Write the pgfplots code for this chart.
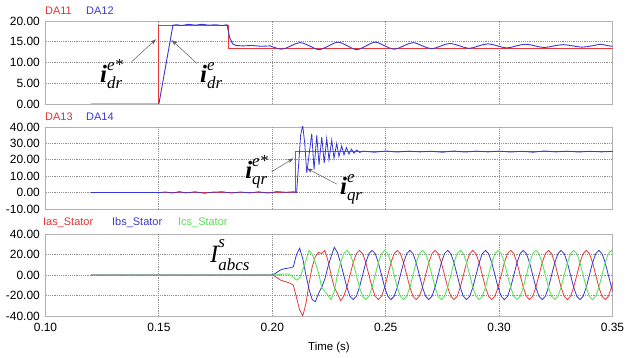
\documentclass[border=0pt]{standalone}
\usepackage{fontspec}
\setmainfont{Liberation Sans}
\newfontfamily\tms{Liberation Serif}
\usepackage{pgfplots}
\usepackage{pgfplotstable}
\pgfplotsset{compat=1.18}
\usetikzlibrary{arrows.meta}

\definecolor{cred}{RGB}{235,55,55}
\definecolor{cblue}{RGB}{55,55,215}
\definecolor{cgreen}{RGB}{90,228,90}
\definecolor{lred}{RGB}{225,50,50}
\definecolor{lblue}{RGB}{60,60,205}
\definecolor{lgreen}{RGB}{90,220,90}
\definecolor{arr}{RGB}{90,90,90}
\definecolor{gridc}{RGB}{145,145,145}
\tikzset{gl/.style={draw=gridc, line width=0.9bp, dash pattern=on 1.2bp off 1bp}}

\newcommand{\curlab}[3]{{\tms\fontsize{25}{25}\selectfont\bfseries\itshape #1}%
\makebox[0pt][l]{\raisebox{12bp}{\tms\fontsize{17}{17}\selectfont\itshape #2}}%
\raisebox{-6bp}{\tms\fontsize{17}{17}\selectfont\itshape #3}}
\newcommand{\Ilab}[3]{{\tms\fontsize{25}{25}\selectfont\itshape #1}%
\makebox[0pt][l]{\raisebox{15bp}{\tms\fontsize{17}{17}\selectfont\itshape #2}}%
\raisebox{-8bp}{\tms\fontsize{17}{17}\selectfont\itshape #3}}

\pgfplotstableread{
t R B G
0.12000 0 0 0
0.19954 0 0 0
0.20093 -1 1 0
0.20232 -3 3 0.5
0.20371 -5 5 0.5
0.20510 -6 6 1
0.20649 -7 6.5 1
0.20788 -8 7 0
0.20927 -10 8 -2
0.21066 -22 20 -5
0.21204 -34 26 -3
0.21343 -40 16 5
0.21482 -28 0 14
0.21621 -8 -14 24
0.21760 8 -24 20
0.21899 18 -26 12
0.22038 22 -18 2
0.22177 21 -12 -12
0.22316 24 -4 -16
0.22454 14 8 -20
0.22593 0 18 -24
0.22732 -12 27 -16
0.22871 -18 22 0
0.23010 -25 12 12
0.23149 -20.8 0 20.8
0.23288 -12 -12 24
0.23427 0 -20.8 20.8
0.23566 12 -24 12
0.23704 20.8 -20.8 0
0.23843 24 -12 -12
0.23982 20.8 0 -20.8
0.24121 12 12 -24
0.24260 0 20.8 -20.8
0.24399 -12 24 -12
0.24538 -20.8 20.8 0
0.24677 -24 12 12
0.24816 -20.8 0 20.8
0.24954 -12 -12 24
0.25093 0 -20.8 20.8
0.25232 12 -24 12
0.25371 20.8 -20.8 0
0.25510 24 -12 -12
0.25649 20.8 0 -20.8
0.25788 12 12 -24
0.25927 0 20.8 -20.8
0.26066 -12 24 -12
0.26204 -20.8 20.8 0
0.26343 -24 12 12
0.26482 -20.8 0 20.8
0.26621 -12 -12 24
0.26760 0 -20.8 20.8
0.26899 12 -24 12
0.27038 20.8 -20.8 0
0.27177 24 -12 -12
0.27316 20.8 0 -20.8
0.27454 12 12 -24
0.27593 0 20.8 -20.8
0.27732 -12 24 -12
0.27871 -20.8 20.8 0
0.28010 -24 12 12
0.28149 -20.8 0 20.8
0.28288 -12 -12 24
0.28427 0 -20.8 20.8
0.28566 12 -24 12
0.28704 20.8 -20.8 0
0.28843 24 -12 -12
0.28982 20.8 0 -20.8
0.29121 12 12 -24
0.29260 0 20.8 -20.8
0.29399 -12 24 -12
0.29538 -20.8 20.8 0
0.29677 -24 12 12
0.29816 -20.8 0 20.8
0.29954 -12 -12 24
0.30093 0 -20.8 20.8
0.30232 12 -24 12
0.30371 20.8 -20.8 0
0.30510 24 -12 -12
0.30649 20.8 0 -20.8
0.30788 12 12 -24
0.30927 0 20.8 -20.8
0.31066 -12 24 -12
0.31204 -20.8 20.8 0
0.31343 -24 12 12
0.31482 -20.8 0 20.8
0.31621 -12 -12 24
0.31760 0 -20.8 20.8
0.31899 12 -24 12
0.32038 20.8 -20.8 0
0.32177 24 -12 -12
0.32316 20.8 0 -20.8
0.32454 12 12 -24
0.32593 0 20.8 -20.8
0.32732 -12 24 -12
0.32871 -20.8 20.8 0
0.33010 -24 12 12
0.33149 -20.8 0 20.8
0.33288 -12 -12 24
0.33427 0 -20.8 20.8
0.33566 12 -24 12
0.33704 20.8 -20.8 0
0.33843 24 -12 -12
0.33982 20.8 0 -20.8
0.34121 12 12 -24
0.34260 0 20.8 -20.8
0.34399 -12 24 -12
0.34538 -20.8 20.8 0
0.34677 -24 12 12
0.34816 -20.8 0 20.8
0.34954 -12 -12 24
0.35093 0 -20.8 20.8
}\tabC

\pgfplotsset{
  panel/.style={
    scale only axis, width=567bp, height=82bp,
    xmin=0.10, xmax=0.35, enlargelimits=false,
    axis line style={draw=gray!60},
    tick style={draw=none},
    xtick={0.10,0.15,0.20,0.25,0.30,0.35},
    tick label style={font=\fontsize{12}{12}\selectfont},
    /pgf/number format/.cd, fixed, fixed zerofill, precision=2, assume math mode=true,
    /pgfplots/.cd,
    yticklabel style={inner xsep=0pt, xshift=-5.5bp},
    xticklabel style={inner ysep=0pt, yshift=-7bp},
  }
}

\begin{document}
\begin{tikzpicture}
\useasboundingbox (0,0) rectangle (625bp,358bp);

% ---------- panel 1 ----------
\begin{axis}[panel, at={(45.5bp,254bp)}, anchor=south west, height=83bp,
  ymin=0, ymax=20, ytick={0,5,10,15,20}, xticklabels={}]
\draw[gl] (0.15,0) -- (0.15,20);
\draw[gl] (0.20,0) -- (0.20,20);
\draw[gl] (0.25,0) -- (0.25,20);
\draw[gl] (0.30,0) -- (0.30,20);
\draw[gl] (0.10,5) -- (0.35,5);
\draw[gl] (0.10,10) -- (0.35,10);
\draw[gl] (0.10,15) -- (0.35,15);
\addplot[cred, line width=0.9bp] coordinates {(0.12,0)(0.15,0)(0.15,19)(0.1805,19)(0.1805,13.5)(0.35,13.5)};
\addplot[cblue, line width=0.9bp] coordinates {(0.12,0)(0.150,0)(0.1562,19)(0.158,19.1)(0.160,18.9)(0.163,19.2)(0.166,19.0)(0.169,19.2)(0.172,19.0)(0.175,19.1)(0.178,18.9)(0.1800,19.1)(0.1812,16)(0.1825,14.5)(0.1840,14.1)(0.187,14.0)(0.191,14.1)(0.195,13.9)(0.199,14.0)};
\addplot[cblue, line width=0.9bp, smooth, tension=0.6] coordinates {(0.199,14.0)(0.2041,13.2)(0.2082,14.0)(0.2122,14.8)(0.2164,14.0)(0.2206,13.1)(0.2248,14.0)(0.2290,14.9)(0.2331,14.0)(0.2372,13.1)(0.2413,14.0)(0.2454,14.9)(0.2496,14.0)(0.2537,13.2)(0.2579,14.0)(0.2620,14.8)(0.2662,14.0)(0.2703,13.3)(0.2744,14.0)(0.2784,14.6)(0.2826,14.0)(0.2868,13.4)(0.2910,14.0)(0.2951,14.5)(0.2993,14.0)(0.3034,13.5)(0.3076,14.0)(0.3117,14.4)(0.3159,14.0)(0.3200,13.6)(0.3242,14.0)(0.3283,14.3)(0.3325,14.0)(0.3366,13.7)(0.3408,14.0)(0.3450,14.4)(0.3475,14.1)(0.350,13.9)};
\node[anchor=base west, inner sep=0pt] at (0.1240,5.06) {\curlab{i}{e*}{dr}};
\node[anchor=base west, inner sep=0pt] at (0.1681,5.06) {\curlab{i}{e}{dr}};
\draw[arr, line width=0.5bp, -{Stealth[length=6bp,width=4bp]}] (0.1380,10.2) -- (0.1487,15.6);
\draw[arr, line width=0.5bp, -{Stealth[length=6bp,width=4bp]}] (0.1667,9.8) -- (0.1556,15.4);
\end{axis}

% ---------- panel 2 ----------
\begin{axis}[panel, at={(45.5bp,149bp)}, anchor=south west,
  ymin=-10, ymax=40, ytick={-10,0,10,20,30,40}, xticklabels={}]
\draw[gl] (0.15,-10) -- (0.15,40);
\draw[gl] (0.20,-10) -- (0.20,40);
\draw[gl] (0.25,-10) -- (0.25,40);
\draw[gl] (0.30,-10) -- (0.30,40);
\draw[gl] (0.10,0) -- (0.35,0);
\draw[gl] (0.10,10) -- (0.35,10);
\draw[gl] (0.10,20) -- (0.35,20);
\draw[gl] (0.10,30) -- (0.35,30);
\addplot[cred, line width=0.9bp] coordinates {(0.12,0)(0.2100,0)(0.2100,25)(0.35,25)};
\addplot[cblue, line width=0.8bp] coordinates {(0.12,0)(0.150,0)(0.153,0.4)(0.156,-0.3)(0.159,0.6)(0.162,-0.2)(0.166,0.5)(0.170,-0.4)(0.174,0.3)(0.178,0.5)(0.182,-0.3)(0.186,0.4)(0.190,-0.2)(0.194,0.5)(0.198,-0.3)(0.202,0.6)(0.206,0.2)(0.2095,0.5)(0.2107,0)(0.2115,15)(0.2125,35)(0.2134,41)(0.2143,30)(0.2152,12)(0.2163,24)(0.2174,36)(0.2184,14)(0.2196,35)(0.2206,17)(0.2218,34)(0.2229,18)(0.2240,33)(0.2250,20)(0.2262,32)(0.2272,21)(0.2284,30)(0.2294,22)(0.2306,28.5)(0.2316,23)(0.2327,27.5)(0.2338,23.5)(0.2349,26.5)(0.2360,24)(0.2372,26)(0.2385,24.5)(0.240,25.3)(0.245,24.6)(0.250,25.4)(0.255,24.7)(0.260,25.3)(0.265,24.8)(0.270,25.2)(0.275,24.6)(0.280,25.4)(0.285,24.7)(0.290,25.3)(0.295,24.8)(0.300,25.3)(0.305,24.7)(0.310,25.2)(0.315,24.6)(0.320,25.4)(0.325,24.8)(0.330,25.3)(0.335,24.7)(0.340,25.2)(0.345,24.8)(0.350,25.1)};
\node[anchor=base west, inner sep=0pt] at (0.1880,8.9) {\curlab{i}{e*}{qr}};
\node[anchor=base west, inner sep=0pt] at (0.2298,-1.46) {\curlab{i}{e}{qr}};
\draw[arr, line width=0.5bp, -{Stealth[length=6bp,width=4bp]}] (0.1997,12.7) -- (0.2093,20.9);
\draw[arr, line width=0.5bp, -{Stealth[length=6bp,width=4bp]}] (0.2284,5.2) -- (0.2152,14.8);
\end{axis}

% ---------- panel 3 ----------
\begin{axis}[panel, at={(45.5bp,42bp)}, anchor=south west,
  ymin=-40, ymax=40, ytick={-40,-20,0,20,40}]
\draw[gl] (0.15,-40) -- (0.15,40);
\draw[gl] (0.20,-40) -- (0.20,40);
\draw[gl] (0.25,-40) -- (0.25,40);
\draw[gl] (0.30,-40) -- (0.30,40);
\draw[gl] (0.10,-20) -- (0.35,-20);
\draw[gl] (0.10,0) -- (0.35,0);
\draw[gl] (0.10,20) -- (0.35,20);
\addplot[cred, line width=0.8bp] table[x=t,y=R]{\tabC};
\addplot[cblue, line width=0.8bp] table[x=t,y=B]{\tabC};
\addplot[cgreen, line width=0.9bp] table[x=t,y=G]{\tabC};
\node[anchor=base west, inner sep=0pt] at (0.1725,12.4) {\Ilab{I}{s}{abcs}};
\end{axis}

% ---------- labels ----------
\begin{scope}[every node/.style={anchor=west, inner sep=0pt, font=\fontsize{11}{11}\selectfont}]
\node[text=lred] at (45bp,347bp) {DA11};
\node[text=lblue] at (86bp,347bp) {DA12};
\node[text=lred] at (45bp,241bp) {DA13};
\node[text=lblue] at (86bp,241bp) {DA14};
\node[text=lred] at (43bp,135bp) {Ias\_Stator};
\node[text=lblue] at (112bp,135bp) {Ibs\_Stator};
\node[text=lgreen] at (178bp,135bp) {Ics\_Stator};
\end{scope}
\node[inner sep=0pt, font=\fontsize{11.5}{11.5}\selectfont] at (329bp,10bp) {Time (s)};
\end{tikzpicture}
\end{document}
